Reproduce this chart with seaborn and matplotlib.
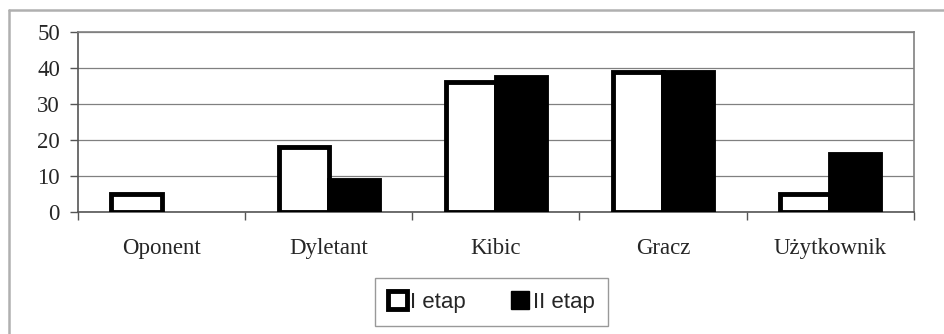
import pandas as pd
import matplotlib
matplotlib.use("Agg")
import matplotlib.pyplot as plt
from matplotlib.lines import Line2D
from matplotlib.patches import Patch
import seaborn as sns

# Data
categories = ["Oponent", "Dyletant", "Kibic", "Gracz", "Użytkownik"]
etap_1 = [5, 18, 36, 39, 5]
etap_2 = [0, 9, 37.5, 39, 16]
series_names = ["I etap", "II etap"]
y_ticks = [0, 10, 20, 30, 40, 50]

df = pd.DataFrame({
    "kategoria": categories * 2,
    "wartosc": etap_1 + etap_2,
    "etap": [series_names[0]] * len(categories) + [series_names[1]] * len(categories),
})

sns.set_theme(style="white")
plt.rcParams["font.family"] = ["Liberation Serif", "DejaVu Serif"]

fig = plt.figure(figsize=(9.45, 3.34), dpi=100)
ax = fig.add_axes([0.0825, 0.365, 0.8845, 0.539])

sns.barplot(
    data=df, x="kategoria", y="wartosc", hue="etap",
    hue_order=series_names, palette=["white", "black"],
    edgecolor="black", linewidth=3.5, width=0.6, ax=ax,
    legend=False, zorder=3,
)
# empty bars should not leave an outline on the axis
for p in ax.patches:
    if p.get_height() == 0:
        p.set_linewidth(0)

ax.set_ylim(0, 50)
ax.set_xlim(-0.5, len(categories) - 0.5)
ax.set_yticks(y_ticks)
ax.set_xlabel("")
ax.set_ylabel("")

# gridlines and frame
ax.yaxis.grid(True, color="#808080", linewidth=0.9)
ax.set_axisbelow(True)
for side in ["left", "right", "top", "bottom"]:
    ax.spines[side].set_visible(True)
    ax.spines[side].set_color("#808080")
    ax.spines[side].set_linewidth(1.2)
ax.spines["bottom"].set_color("#555555")
ax.spines["left"].set_color("#555555")

# ticks
ax.tick_params(axis="y", which="major", direction="out", length=6, width=1,
               color="#555555", pad=7, labelsize=16.5, left=True)
ax.tick_params(axis="x", which="major", length=0, pad=19, labelsize=16.5)
ax.set_xticks([i - 0.5 for i in range(len(categories) + 1)], minor=True)
ax.tick_params(axis="x", which="minor", direction="out", length=6, width=1,
               color="#555555", bottom=True)

# legend
handles = [
    Patch(facecolor="white", edgecolor="black", linewidth=3.5),
    Patch(facecolor="black", edgecolor="black", linewidth=1),
]
leg = fig.legend(
    handles, series_names, loc="center", bbox_to_anchor=(0.52, 0.096),
    ncol=2, frameon=True, fancybox=False, handlelength=0.85, handleheight=0.85,
    handletextpad=0.15, columnspacing=2.0, borderpad=0.6, borderaxespad=0,
    prop={"family": "Liberation Sans", "size": 16},
)
leg.get_frame().set_edgecolor("#808080")
leg.get_frame().set_linewidth(1)

# outer chart frame (left and top edges visible)
fig.add_artist(Line2D([0.0095, 0.0095], [0, 0.97], transform=fig.transFigure,
                      color="#b0b0b0", linewidth=1.8))
fig.add_artist(Line2D([0.0095, 1.0], [0.97, 0.97], transform=fig.transFigure,
                      color="#b0b0b0", linewidth=1.8))

fig.savefig("out.png", dpi=100, facecolor="white")
